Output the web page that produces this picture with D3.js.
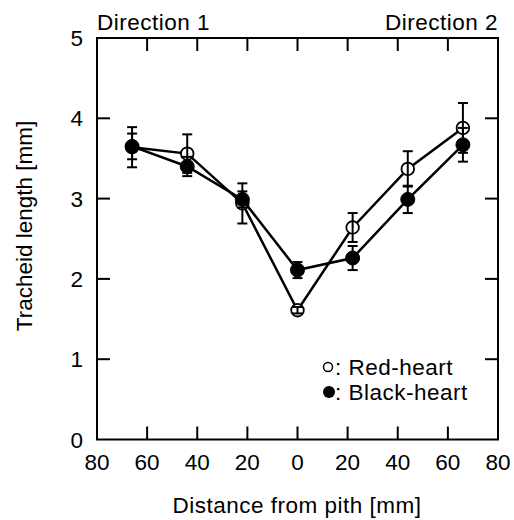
<!doctype html>
<html lang="en">

<head>
  <meta charset="UTF-8">
  <title>Tracheid length</title>
  <style type="text/css">
    body { margin: 0; background: #fff; }
    text { font-family: "Liberation Sans", Arial, sans-serif; fill: #000; }
    .lbl { letter-spacing: 0.5px; }
  </style>
  <script src="https://cdn.jsdelivr.net/npm/d3@7/dist/d3.min.js"></script>
</head>

<body>
  <svg width="514" height="520"></svg>
  <script>
    // distance from pith, negative = direction 1
    let dist = [-66, -44, -22, 0, 22, 44, 66]
    let red = [3.64, 3.56, 2.94, 1.61, 2.64, 3.37, 3.88]
    let redErr = [0.25, 0.24, 0.25, 0.04, 0.18, 0.22, 0.31]
    let black = [3.65, 3.40, 2.99, 2.11, 2.26, 2.99, 3.67]
    let blackErr = [0.16, 0.12, 0.10, 0.10, 0.15, 0.17, 0.21]
    let xTicks = [-80, -60, -40, -20, 0, 20, 40, 60, 80]
    let yTicks = [0, 1, 2, 3, 4, 5]

    let svg = d3.select('svg')
    let x = d3.scaleLinear().domain([-80, 80]).range([97, 498])
    let y = d3.scaleLinear().domain([0, 5]).range([439.5, 38])
    let fs = 22.5

    // frame
    svg.append('rect')
      .attr('x', x(-80)).attr('y', y(5))
      .attr('width', x(80) - x(-80)).attr('height', y(0) - y(5))
      .attr('fill', 'none').attr('stroke', '#000').attr('stroke-width', 2)

    // inward ticks on four sides
    let tl = 13
    let inner = xTicks.slice(1, -1)
    svg.selectAll('.xtb').data(inner).enter().append('line')
      .attr('x1', d => x(d)).attr('x2', d => x(d))
      .attr('y1', y(0)).attr('y2', y(0) - tl)
      .attr('stroke', '#000').attr('stroke-width', 2)
    svg.selectAll('.xtt').data(inner).enter().append('line')
      .attr('x1', d => x(d)).attr('x2', d => x(d))
      .attr('y1', y(5)).attr('y2', y(5) + tl)
      .attr('stroke', '#000').attr('stroke-width', 2)
    let yin = yTicks.slice(1, -1)
    svg.selectAll('.ytl').data(yin).enter().append('line')
      .attr('x1', x(-80)).attr('x2', x(-80) + tl)
      .attr('y1', d => y(d)).attr('y2', d => y(d))
      .attr('stroke', '#000').attr('stroke-width', 2)
    svg.selectAll('.ytr').data(yin).enter().append('line')
      .attr('x1', x(80)).attr('x2', x(80) - tl)
      .attr('y1', d => y(d)).attr('y2', d => y(d))
      .attr('stroke', '#000').attr('stroke-width', 2)

    // tick labels
    svg.selectAll('.xl').data(xTicks).enter().append('text')
      .attr('x', d => x(d)).attr('y', 470)
      .attr('text-anchor', 'middle').attr('font-size', fs)
      .text(d => Math.abs(d))
    svg.selectAll('.yl').data(yTicks).enter().append('text')
      .attr('x', 83).attr('y', d => y(d) + 8)
      .attr('text-anchor', 'end').attr('font-size', fs)
      .text(d => d)

    // axis titles
    svg.append('text').attr('class', 'lbl')
      .attr('x', 297).attr('y', 513)
      .attr('text-anchor', 'middle').attr('font-size', fs)
      .text('Distance from pith [mm]')
    svg.append('text')
      .attr('transform', 'translate(32,226) rotate(-90)')
      .attr('text-anchor', 'middle').attr('font-size', fs)
      .text('Tracheid length [mm]')
    svg.append('text').attr('class', 'lbl')
      .attr('x', 97).attr('y', 30).attr('font-size', fs)
      .text('Direction 1')
    svg.append('text').attr('class', 'lbl')
      .attr('x', 498).attr('y', 30).attr('text-anchor', 'end').attr('font-size', fs)
      .text('Direction 2')

    function drawSeries(vals, errs, filled, r) {
      let pts = dist.map((d, i) => ({ x: d, y: vals[i], e: errs[i] }))
      let line = d3.line().x(d => x(d.x)).y(d => y(d.y))
      svg.append('path').datum(pts)
        .attr('d', line)
        .attr('fill', 'none').attr('stroke', '#000').attr('stroke-width', 2.5)
      svg.selectAll(null).data(pts).enter().append('circle')
        .attr('cx', d => x(d.x)).attr('cy', d => y(d.y)).attr('r', r)
        .attr('fill', filled ? '#000' : '#fff')
        .attr('stroke', '#000').attr('stroke-width', filled ? 1 : 1.8)
      let g = svg.selectAll(null).data(pts).enter().append('g')
      g.append('line')
        .attr('x1', d => x(d.x)).attr('x2', d => x(d.x))
        .attr('y1', d => y(d.y - d.e)).attr('y2', d => y(d.y + d.e))
        .attr('stroke', '#000').attr('stroke-width', 2)
      g.append('line')
        .attr('x1', d => x(d.x) - 5).attr('x2', d => x(d.x) + 5)
        .attr('y1', d => y(d.y + d.e)).attr('y2', d => y(d.y + d.e))
        .attr('stroke', '#000').attr('stroke-width', 2)
      g.append('line')
        .attr('x1', d => x(d.x) - 5).attr('x2', d => x(d.x) + 5)
        .attr('y1', d => y(d.y - d.e)).attr('y2', d => y(d.y - d.e))
        .attr('stroke', '#000').attr('stroke-width', 2)
    }

    drawSeries(red, redErr, false, 6.3)
    drawSeries(black, blackErr, true, 7)

    // legend
    svg.append('circle').attr('cx', 328).attr('cy', 367).attr('r', 4.5)
      .attr('fill', '#fff').attr('stroke', '#000').attr('stroke-width', 1.5)
    svg.append('text').attr('class', 'lbl').attr('x', 335).attr('y', 375).attr('font-size', fs)
      .text(': Red-heart')
    svg.append('circle').attr('cx', 329).attr('cy', 392).attr('r', 6)
      .attr('fill', '#000')
    svg.append('text').attr('class', 'lbl').attr('x', 335).attr('y', 400).attr('font-size', fs)
      .text(': Black-heart')
  </script>
</body>

</html>
